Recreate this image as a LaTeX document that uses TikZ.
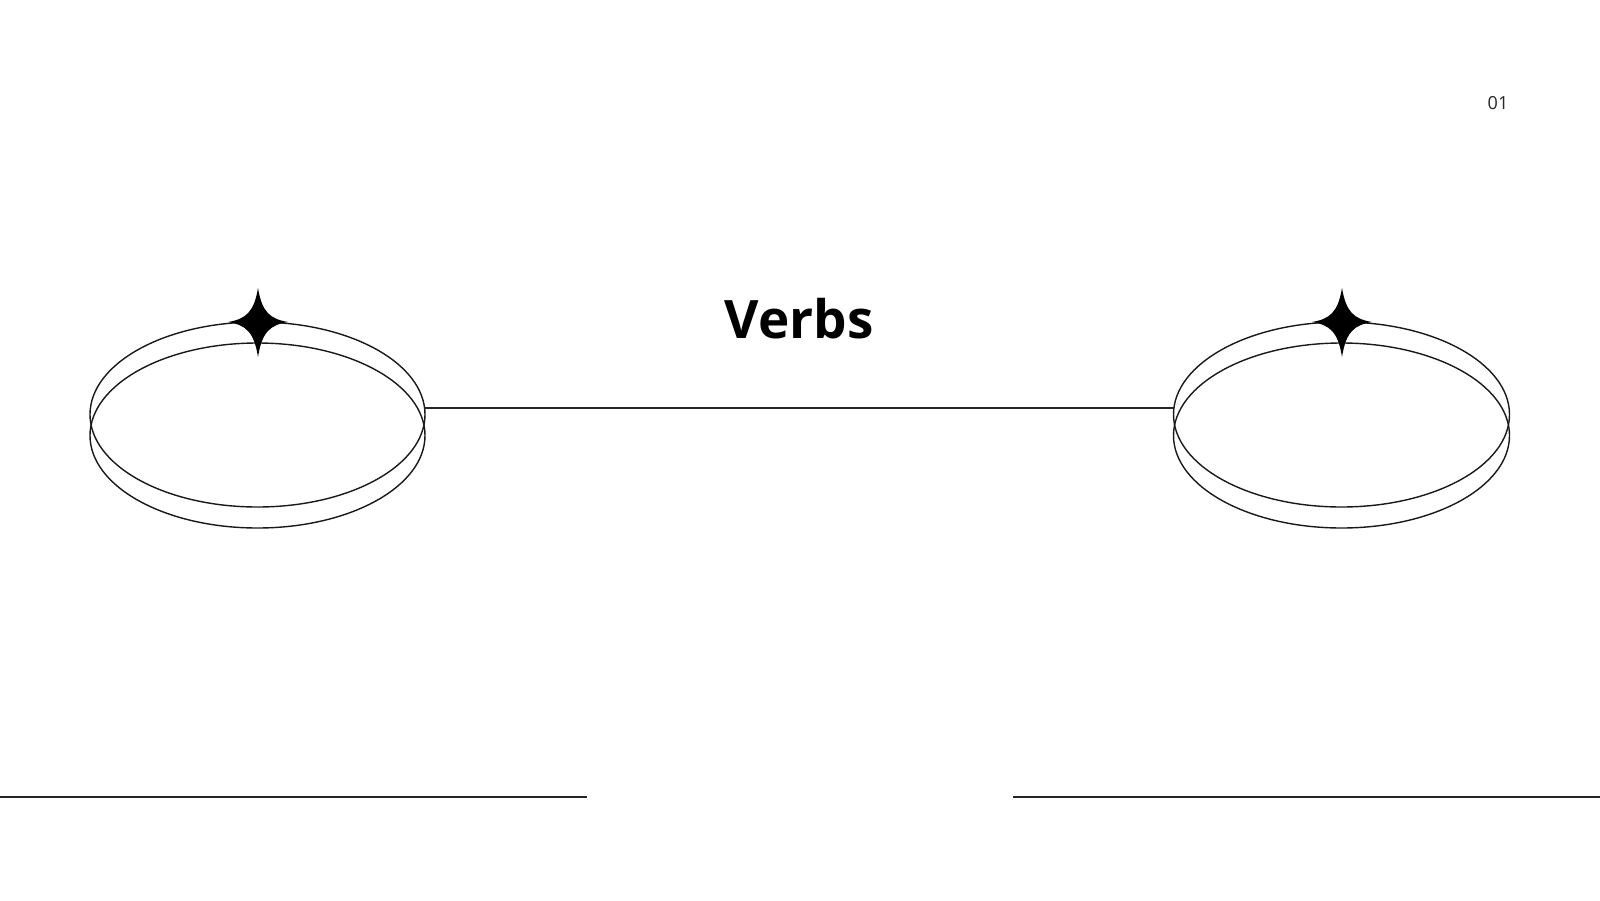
\documentclass[tikz,border=0pt]{standalone}
\usepackage{fontspec}
\setmainfont{Open Sans}
\begin{document}
\begin{tikzpicture}[x=1pt,y=-1pt,
  ring/.style={draw=black!90,line width=1.4pt},
  rule/.style={draw=black!85,line width=1.5pt},
  sparkle/.style={fill=black}]
\useasboundingbox (0,0) rectangle (1600,900);
\fill[white] (0,0) rectangle (1600,900);
% left ellipses
\coordinate (L) at (257.5,425);
\draw[ring] (257.5,414.5) ellipse [x radius=167.5, y radius=92.5];
\draw[ring] (257.5,435.5) ellipse [x radius=167.5, y radius=92.5];
% right ellipses
\coordinate (R) at (1341.5,425);
\draw[ring] (1341.5,414.5) ellipse [x radius=168, y radius=92.5];
\draw[ring] (1341.5,435.5) ellipse [x radius=168, y radius=92.5];
% stars
\foreach \cx in {258,1342}{
  \fill[sparkle] (\cx,288) .. controls (\cx+4,312) and (\cx+12,319) .. (\cx+30,322)
    .. controls (\cx+12,325) and (\cx+4,332) .. (\cx,357)
    .. controls (\cx-4,332) and (\cx-12,325) .. (\cx-30,322)
    .. controls (\cx-12,319) and (\cx-4,312) .. (\cx,288) -- cycle;
}
% connector
\coordinate (cl) at (424,408);
\coordinate (cr) at (1174,408);
\draw[rule,line width=1.4pt] (cl) -- (cr);
% title
\node[anchor=base,font=\bfseries\fontsize{53}{60}\selectfont,inner sep=0] (title) at (799,338) {Verbs};
% page number
\node[anchor=base,font=\fontsize{18}{20}\selectfont,text=black!85,inner sep=0] (page) at (1498,109) {01};
% bottom rules
\coordinate (b1) at (0,797);
\coordinate (b2) at (587,797);
\coordinate (b3) at (1013,797);
\coordinate (b4) at (1600,797);
\draw[rule] (b1) -- (b2);
\draw[rule] (b3) -- (b4);
\end{tikzpicture}
\end{document}
